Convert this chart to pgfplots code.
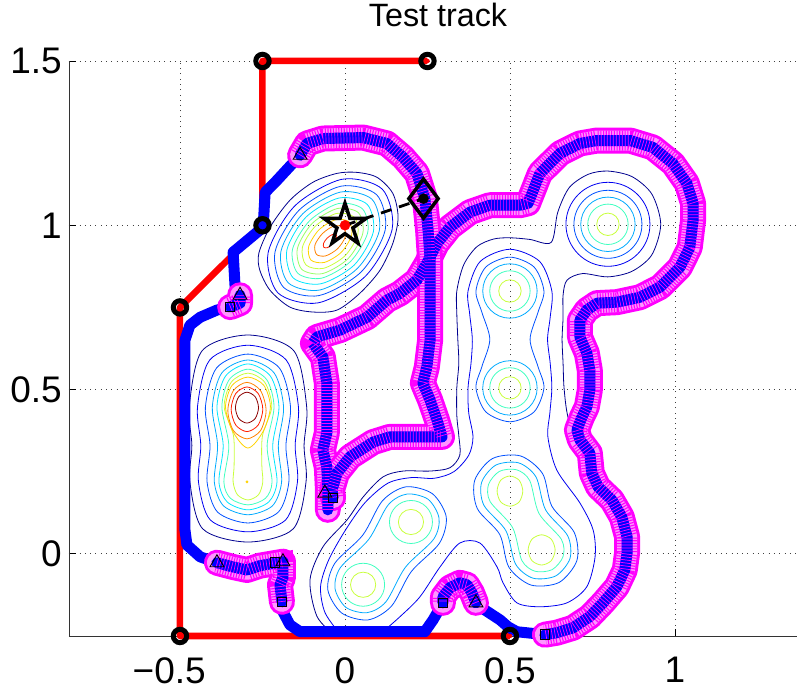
\documentclass[border=0pt]{standalone}
\usepackage{fontspec}
\setmainfont{Liberation Sans}
\usepackage{pgfplots}
\usepackage{pgfplotstable}
\pgfplotsset{compat=1.18}
\usetikzlibrary{plotmarks}

% contour colours (jet-like)
\definecolor{cA}{RGB}{0,0,143}
\definecolor{cB}{RGB}{0,0,240}
\definecolor{cC}{RGB}{0,80,255}
\definecolor{cD}{RGB}{0,170,255}
\definecolor{cE}{RGB}{0,230,255}
\definecolor{cF}{RGB}{64,255,192}
\definecolor{cG}{RGB}{150,255,100}
\definecolor{cH}{RGB}{200,255,60}
\definecolor{cI}{RGB}{255,210,0}
\definecolor{cJ}{RGB}{255,130,0}
\definecolor{cK}{RGB}{255,30,0}
\definecolor{cL}{RGB}{140,0,0}
\definecolor{mag}{RGB}{255,0,255}
\definecolor{bandfill}{RGB}{255,150,255}
\definecolor{pathblue}{RGB}{0,0,255}
\definecolor{trackred}{RGB}{255,0,0}

% five-pointed star outline
\pgfdeclareplotmark{pentagram}{%
  \pgfpathmoveto{\pgfpointpolar{90}{\pgfplotmarksize}}%
  \pgfpathlineto{\pgfpointpolar{126}{0.382\pgfplotmarksize}}%
  \pgfpathlineto{\pgfpointpolar{162}{\pgfplotmarksize}}%
  \pgfpathlineto{\pgfpointpolar{198}{0.382\pgfplotmarksize}}%
  \pgfpathlineto{\pgfpointpolar{234}{\pgfplotmarksize}}%
  \pgfpathlineto{\pgfpointpolar{270}{0.382\pgfplotmarksize}}%
  \pgfpathlineto{\pgfpointpolar{306}{\pgfplotmarksize}}%
  \pgfpathlineto{\pgfpointpolar{342}{0.382\pgfplotmarksize}}%
  \pgfpathlineto{\pgfpointpolar{18}{\pgfplotmarksize}}%
  \pgfpathlineto{\pgfpointpolar{54}{0.382\pgfplotmarksize}}%
  \pgfpathclose
  \pgfusepathqstroke
}

\pgfplotsset{
  contour/.style={draw=#1, line width=0.8bp, smooth cycle},
  ocontour/.style={draw=#1, line width=0.8bp, smooth},
  ring/.style={only marks, mark=o, mark options={draw=#1, line width=0.8bp, fill=none}},
  band1/.style={mag, line width=26bp, line cap=round, line join=round},
  band2/.style={bandfill, line width=20bp, line cap=round, line join=round},
  band3/.style={mag, line width=20bp, line cap=butt, dash pattern=on 1.1bp off 1.6bp},
  band4/.style={pathblue, line width=11bp, line cap=round, line join=round},
  band5/.style={mag, line width=11bp, line cap=butt, dash pattern=on 0.7bp off 2.3bp},
}

% robot trajectory, split where the wall-following sensor is active
\pgfplotstableread{
x y
-0.052 0.134
-0.052 0.204
-0.055 0.264
-0.067 0.316
-0.055 0.368
-0.055 0.520
-0.067 0.599
-0.097 0.641
-0.085 0.660
-0.015 0.681
0.067 0.720
0.127 0.772
0.167 0.793
0.218 0.833
0.248 0.884
0.279 0.945
0.318 0.994
0.379 1.040
0.439 1.061
0.530 1.061
0.555 1.067
0.591 1.158
0.652 1.219
0.712 1.249
0.764 1.258
0.864 1.258
0.933 1.237
0.994 1.188
1.036 1.128
1.055 1.067
1.055 1.015
1.045 0.933
1.015 0.872
0.955 0.812
0.894 0.781
0.824 0.766
0.764 0.763
0.733 0.742
0.712 0.711
0.712 0.660
0.733 0.611
0.742 0.559
0.742 0.498
0.733 0.447
0.718 0.416
0.703 0.377
0.712 0.347
0.742 0.307
0.748 0.246
0.767 0.204
0.809 0.164
0.839 0.112
0.855 0.052
0.855 0.003
0.848 -0.049
0.824 -0.100
0.782 -0.149
0.742 -0.191
0.691 -0.225
0.642 -0.240
0.606 -0.246
}\segA
\pgfplotstableread{
x y
0.606 -0.246
0.521 -0.237
0.494 -0.222
0.470 -0.201
0.409 -0.161
0.397 -0.149
}\gapA
\pgfplotstableread{
x y
0.397 -0.149
0.385 -0.119
0.370 -0.094
0.348 -0.088
0.318 -0.103
0.297 -0.131
0.297 -0.149
}\segB
\pgfplotstableread{
x y
0.297 -0.149
0.267 -0.201
0.242 -0.237
-0.136 -0.237
-0.167 -0.216
-0.188 -0.176
-0.191 -0.146
}\gapB
\pgfplotstableread{
x y
-0.191 -0.146
-0.197 -0.094
-0.188 -0.073
-0.188 -0.024
-0.206 -0.027
-0.258 -0.036
-0.297 -0.049
-0.339 -0.040
-0.388 -0.027
}\segC
\pgfplotstableread{
x y
-0.388 -0.027
-0.439 -0.009
-0.479 0.027
-0.485 0.073
-0.485 0.650
-0.470 0.696
-0.439 0.720
-0.388 0.742
-0.348 0.751
}\gapC
\pgfplotstableread{
x y
-0.348 0.751
-0.318 0.763
-0.318 0.787
}\segD
\pgfplotstableread{
x y
-0.318 0.787
-0.333 0.812
-0.339 0.918
-0.248 0.994
-0.242 1.100
-0.206 1.137
-0.136 1.213
}\gapD
\pgfplotstableread{
x y
-0.136 1.213
-0.115 1.249
-0.067 1.264
0.055 1.267
0.127 1.249
0.176 1.207
0.218 1.158
0.242 1.082
0.252 0.985
0.258 0.894
0.258 0.720
0.258 0.650
0.248 0.568
0.236 0.520
0.258 0.468
0.279 0.407
0.294 0.356
0.136 0.356
0.085 0.340
0.015 0.295
-0.024 0.246
-0.039 0.195
-0.036 0.170
}\segE

\begin{document}
\begin{tikzpicture}
\begin{axis}[
  scale only axis,
  width=728bp, height=575bp,
  xmin=-0.8364, xmax=1.37, ymin=-0.25, ymax=1.5,
  axis lines*=left,
  clip=false,
  xtick={-0.5,0,0.5,1}, xticklabels={\llap{−}0.5,0,0.5,1},
  ytick={0,0.5,1,1.5}, yticklabels={0,0.5,1,1.5},
  tick align=inside, major tick length=7bp,
  tick style={black, line width=0.8bp},
  axis line style={black!80, line width=0.8bp},
  grid=major,
  grid style={black!75, line width=0.8bp, dash pattern=on 0.8bp off 4.5bp},
  tick label style={font=\fontsize{37bp}{40bp}\selectfont},
  xticklabel style={anchor=north, inner sep=0pt, yshift=-21bp},
  yticklabel style={anchor=east, inner sep=0pt, xshift=-7bp},
  title={Test track},
  title style={font=\fontsize{32.3bp}{34bp}\selectfont, at={(0.5,1)}, anchor=base, yshift=29bp, xshift=5bp},
]

% ---------- potential field contours: tilted peak near the goal ----------
\addplot[contour=cA] coordinates {(-0.261,0.915) (-0.227,0.994) (-0.167,1.076) (-0.097,1.131) (-0.024,1.158) (0.036,1.161) (0.097,1.146) (0.145,1.097) (0.161,1.024) (0.145,0.945) (0.106,0.863) (0.045,0.793) (-0.024,0.742) (-0.097,0.736) (-0.167,0.751) (-0.227,0.802) (-0.258,0.863)};
\addplot[contour=cB] coordinates {(0.113,1.110) (-0.009,1.140) (-0.152,1.059) (-0.233,0.916) (-0.203,0.794) (-0.081,0.764) (0.062,0.845) (0.143,0.988)};
\addplot[contour=cC] coordinates {(0.096,1.093) (-0.012,1.119) (-0.139,1.046) (-0.212,0.919) (-0.186,0.811) (-0.079,0.786) (0.049,0.858) (0.122,0.986)};
\addplot[contour=cD] coordinates {(0.082,1.079) (-0.014,1.101) (-0.128,1.035) (-0.194,0.921) (-0.172,0.825) (-0.076,0.803) (0.038,0.869) (0.104,0.983)};
\addplot[contour=cE] coordinates {(0.067,1.064) (-0.018,1.083) (-0.118,1.025) (-0.176,0.925) (-0.157,0.840) (-0.073,0.822) (0.028,0.879) (0.086,0.980)};
\addplot[contour=cF] coordinates {(0.053,1.050) (-0.020,1.066) (-0.107,1.014) (-0.159,0.927) (-0.143,0.854) (-0.071,0.839) (0.017,0.890) (0.069,0.978)};
\addplot[contour=cG] coordinates {(0.041,1.038) (-0.023,1.051) (-0.099,1.006) (-0.144,0.930) (-0.131,0.866) (-0.068,0.853) (0.009,0.898) (0.054,0.975)};
\addplot[contour=cH] coordinates {(0.028,1.025) (-0.026,1.036) (-0.090,0.997) (-0.129,0.933) (-0.118,0.879) (-0.065,0.869) (0.000,0.907) (0.039,0.972)};
\addplot[contour=cI] coordinates {(0.013,1.010) (-0.028,1.017) (-0.079,0.986) (-0.110,0.935) (-0.103,0.894) (-0.062,0.887) (-0.011,0.918) (0.020,0.969)};
\addplot[contour=cJ] coordinates {(-0.004,0.993) (-0.033,0.998) (-0.068,0.975) (-0.091,0.940) (-0.086,0.911) (-0.058,0.907) (-0.022,0.929) (0.001,0.965)};
\addplot[contour=cK] coordinates {(-0.026,0.971) (-0.038,0.972) (-0.054,0.961) (-0.065,0.945) (-0.064,0.933) (-0.053,0.932) (-0.037,0.944) (-0.026,0.960)};

% ---------- double peak on the left ----------
\addplot[contour=cA] coordinates {(-0.294,0.666) (-0.155,0.618) (-0.116,0.447) (-0.124,0.33) (-0.118,0.219) (-0.157,0.076) (-0.294,0.036) (-0.431,0.076) (-0.470,0.219) (-0.464,0.33) (-0.472,0.447) (-0.433,0.618)};
\addplot[contour=cB] coordinates {(-0.294,0.635) (-0.178,0.590) (-0.141,0.447) (-0.151,0.33) (-0.144,0.219) (-0.180,0.103) (-0.294,0.067) (-0.408,0.103) (-0.444,0.219) (-0.437,0.33) (-0.447,0.447) (-0.410,0.590)};
\addplot[contour=cC] coordinates {(-0.294,0.608) (-0.199,0.566) (-0.165,0.447) (-0.179,0.33) (-0.170,0.219) (-0.202,0.127) (-0.294,0.094) (-0.386,0.127) (-0.418,0.219) (-0.409,0.33) (-0.423,0.447) (-0.389,0.566)};
\addplot[contour=cD] coordinates {(-0.294,0.590) (-0.215,0.551) (-0.186,0.447) (-0.202,0.33) (-0.192,0.219) (-0.220,0.146) (-0.294,0.119) (-0.368,0.146) (-0.396,0.219) (-0.386,0.33) (-0.402,0.447) (-0.373,0.551)};
\addplot[contour=cE] coordinates {(-0.294,0.578) (-0.226,0.541) (-0.200,0.447) (-0.219,0.33) (-0.206,0.219) (-0.231,0.158) (-0.294,0.134) (-0.357,0.158) (-0.382,0.219) (-0.369,0.33) (-0.388,0.447) (-0.362,0.541)};
\addplot[contour=cF] coordinates {(-0.294,0.562) (-0.237,0.530) (-0.215,0.447) (-0.236,0.33) (-0.221,0.219) (-0.241,0.169) (-0.294,0.149) (-0.347,0.169) (-0.367,0.219) (-0.352,0.33) (-0.373,0.447) (-0.351,0.530)};
\addplot[contour=cH] coordinates {(-0.294,0.550) (-0.243,0.522) (-0.222,0.447) (-0.250,0.36) (-0.252,0.27) (-0.249,0.219) (-0.262,0.180) (-0.294,0.164) (-0.326,0.180) (-0.339,0.219) (-0.336,0.27) (-0.338,0.36) (-0.366,0.447) (-0.345,0.522)};
\addplot[contour=cI] coordinates {(-0.294,0.538) (-0.246,0.513) (-0.226,0.450) (-0.242,0.385) (-0.270,0.340) (-0.294,0.322) (-0.318,0.340) (-0.346,0.385) (-0.362,0.450) (-0.342,0.513)};
\addplot[contour=cJ] coordinates {(-0.239,0.436) (-0.256,0.497) (-0.297,0.522) (-0.338,0.497) (-0.355,0.436) (-0.338,0.375) (-0.297,0.350) (-0.256,0.375)};
\addplot[contour=cK] coordinates {(-0.249,0.440) (-0.263,0.488) (-0.297,0.508) (-0.331,0.488) (-0.345,0.440) (-0.331,0.392) (-0.297,0.372) (-0.263,0.392)};
\addplot[contour=cL] coordinates {(-0.262,0.445) (-0.272,0.478) (-0.297,0.492) (-0.322,0.478) (-0.332,0.445) (-0.322,0.412) (-0.297,0.398) (-0.272,0.412)};
\addplot[only marks, mark=*, mark size=1.2bp, cI] coordinates {(-0.297,0.219)};

% ---------- right-hand group ----------
\addplot[ocontour=cA] coordinates {(-0.03,-0.25) (-0.085,-0.19) (-0.106,-0.079) (-0.067,0.021) (0.006,0.103) (0.055,0.173) (0.115,0.234) (0.176,0.252) (0.258,0.252) (0.318,0.262) (0.348,0.30) (0.345,0.36) (0.339,0.42) (0.339,0.505) (0.345,0.58) (0.342,0.653) (0.339,0.73) (0.339,0.8) (0.360,0.88) (0.400,0.935) (0.45,0.958) (0.5,0.962) (0.56,0.957) (0.625,0.948) (0.645,1.04) (0.68,1.115) (0.737,1.155) (0.797,1.165) (0.87,1.148) (0.93,1.095) (0.957,1.003) (0.93,0.91) (0.87,0.86) (0.797,0.843) (0.72,0.853) (0.673,0.833) (0.661,0.787) (0.661,0.72) (0.658,0.653) (0.661,0.58) (0.664,0.505) (0.675,0.42) (0.705,0.33) (0.765,0.24) (0.81,0.14) (0.83,0.04) (0.82,-0.06) (0.79,-0.15) (0.74,-0.21) (0.69,-0.25)};
\addplot[ocontour=cB] coordinates {(-0.01,-0.25) (-0.06,-0.18) (-0.074,-0.10) (-0.05,-0.02) (0.0,0.07) (0.06,0.155) (0.13,0.215) (0.2,0.232) (0.27,0.23) (0.33,0.25) (0.375,0.30) (0.388,0.356) (0.375,0.43) (0.373,0.505) (0.382,0.58) (0.386,0.653) (0.378,0.73) (0.373,0.8) (0.41,0.89) (0.5,0.927) (0.59,0.89) (0.627,0.8) (0.622,0.72) (0.614,0.653) (0.622,0.58) (0.627,0.505) (0.621,0.429) (0.615,0.356) (0.642,0.255) (0.712,0.155) (0.752,0.073) (0.758,-0.009) (0.733,-0.100) (0.673,-0.149) (0.591,-0.161) (0.521,-0.149) (0.479,-0.088) (0.461,-0.040) (0.409,0.033) (0.348,0.033) (0.288,-0.040) (0.227,-0.131) (0.167,-0.191) (0.10,-0.25)};
\addplot[contour=cC] coordinates {(0.5,0.903) (0.573,0.873) (0.603,0.8) (0.585,0.735) (0.561,0.6525) (0.585,0.57) (0.603,0.505) (0.573,0.432) (0.5,0.402) (0.427,0.432) (0.397,0.505) (0.415,0.57) (0.439,0.6525) (0.415,0.735) (0.397,0.8) (0.427,0.873)};
\addplot[contour=cC] coordinates {(0.447,0.290) (0.532,0.298) (0.599,0.244) (0.627,0.145) (0.695,0.065) (0.703,-0.020) (0.649,-0.087) (0.564,-0.095) (0.497,-0.041) (0.469,0.059) (0.401,0.138) (0.393,0.223)};
\addplot[contour=cD] coordinates {(0.457,0.270) (0.526,0.277) (0.579,0.234) (0.608,0.134) (0.675,0.055) (0.682,-0.014) (0.639,-0.067) (0.570,-0.074) (0.517,-0.031) (0.488,0.070) (0.421,0.148) (0.414,0.217)};
\addplot[contour=cF] coordinates {(0.468,0.251) (0.520,0.256) (0.560,0.223) (0.588,0.123) (0.656,0.044) (0.661,-0.008) (0.628,-0.048) (0.576,-0.053) (0.536,-0.020) (0.508,0.080) (0.440,0.159) (0.435,0.211)};
\addplot[contour=cH] coordinates {(0.539,0.191) (0.528,0.224) (0.5,0.237) (0.472,0.224) (0.461,0.191) (0.472,0.158) (0.5,0.145) (0.528,0.158)};
\addplot[contour=cH] coordinates {(0.637,0.012) (0.625,0.045) (0.596,0.058) (0.567,0.045) (0.555,0.012) (0.567,-0.021) (0.596,-0.034) (0.625,-0.021)};
% pair at the bottom
\addplot[contour=cC] coordinates {(0.265,0.183) (0.185,0.204) (0.114,0.162) (0.054,0.057) (-0.031,-0.029) (-0.052,-0.109) (-0.010,-0.180) (0.070,-0.201) (0.141,-0.159) (0.201,-0.054) (0.286,0.032) (0.307,0.112)};
\addplot[contour=cD] coordinates {(0.252,0.166) (0.188,0.182) (0.131,0.149) (0.072,0.044) (-0.014,-0.042) (-0.030,-0.106) (0.003,-0.163) (0.067,-0.179) (0.124,-0.146) (0.183,-0.041) (0.269,0.045) (0.285,0.109)};
% circular levels around single peaks
\addplot[ring=cB, mark size=42bp] coordinates {(0.797,1.003)};
\addplot[ring=cC, mark size=34bp] coordinates {(0.797,1.003)};
\addplot[ring=cD, mark size=27.2bp] coordinates {(0.797,1.003) (0.5,0.8) (0.5,0.505)};
\addplot[ring=cF, mark size=20.2bp] coordinates {(0.797,1.003) (0.5,0.8) (0.5,0.505)};
\addplot[ring=cH, mark size=11.2bp] coordinates {(0.797,1.003) (0.5,0.8) (0.5,0.505)};
\addplot[ring=cF, mark size=21.5bp] coordinates {(0.2,0.097) (0.055,-0.094)};
\addplot[ring=cH, mark size=12.6bp] coordinates {(0.2,0.097) (0.055,-0.094)};

% ---------- track boundary ----------
\addplot[trackred, line width=6.5bp, line join=round] coordinates {(0.25,1.5) (-0.25,1.5) (-0.25,1.0) (-0.5,0.75) (-0.5,-0.25) (0.5,-0.25)};
\addplot[only marks, mark=o, mark size=6.7bp, mark options={draw=black, fill=white, line width=5bp}] coordinates {(0.25,1.5) (-0.25,1.5) (-0.25,1.0) (-0.5,0.75) (-0.5,-0.25) (0.5,-0.25)};
\addplot[only marks, mark=*, mark size=2bp, trackred] coordinates {(0.25,1.5) (-0.25,1.5) (-0.5,0.75) (-0.5,-0.25) (0.5,-0.25)};

% ---------- robot path: free motion ----------
\addplot[band4] table {\gapA};
\addplot[band4] table {\gapB};
\addplot[band4] table {\gapC};
\addplot[band4] table {\gapD};

% ---------- robot path: wall following (sensor footprint) ----------
\addplot[band1] table {\segA};
\addplot[band2] table {\segA};
\addplot[band3] table {\segA};
\addplot[band1] table {\segB};
\addplot[band2] table {\segB};
\addplot[band3] table {\segB};
\addplot[band1] table {\segC};
\addplot[band2] table {\segC};
\addplot[band3] table {\segC};
\addplot[band1] table {\segD};
\addplot[band2] table {\segD};
\addplot[band3] table {\segD};
\addplot[band1] table {\segE};
\addplot[band2] table {\segE};
\addplot[band3] table {\segE};
\addplot[band4] table {\segA};
\addplot[band5] table {\segA};
\addplot[band4] table {\segB};
\addplot[band5] table {\segB};
\addplot[band4] table {\segC};
\addplot[band5] table {\segC};
\addplot[band4] table {\segD};
\addplot[band5] table {\segD};
\addplot[band4] table {\segE};
\addplot[band5] table {\segE};

% ---------- switching points ----------
\addplot[only marks, mark=triangle, mark size=8bp, mark options={draw=black, line width=0.9bp, fill=none}] coordinates {(-0.136,1.213) (-0.318,0.787) (-0.388,-0.027) (-0.188,-0.024) (-0.061,0.185) (0.397,-0.149)};
\addplot[only marks, mark=square, mark size=4.8bp, mark options={draw=black, line width=0.9bp, fill=none}] coordinates {(-0.348,0.751) (-0.212,-0.027) (-0.191,-0.146) (-0.036,0.170) (0.297,-0.149) (0.606,-0.246)};

% ---------- goal, start and heading ----------
\addplot[black, line width=2.8bp, dash pattern=on 11bp off 8bp] coordinates {(0,1.0) (0.238,1.081)};
\addplot[only marks, mark=pentagram, mark size=22bp, mark options={draw=black, line width=3.5bp, line join=miter}] coordinates {(0,1.0)};
\addplot[only marks, mark=*, mark size=5bp, trackred] coordinates {(0,1.0)};
\addplot[only marks, mark=diamond, mark size=19.5bp, mark options={draw=black, line width=3.5bp, fill=none}] coordinates {(0.238,1.081)};
\addplot[only marks, mark=*, mark size=5bp, black] coordinates {(0.238,1.081)};
\end{axis}
\pgfresetboundingbox
\path[use as bounding box] ([xshift=-69bp,yshift=-54bp]current axis.south west) rectangle ([yshift=61bp]current axis.north east);
\end{tikzpicture}
\end{document}
